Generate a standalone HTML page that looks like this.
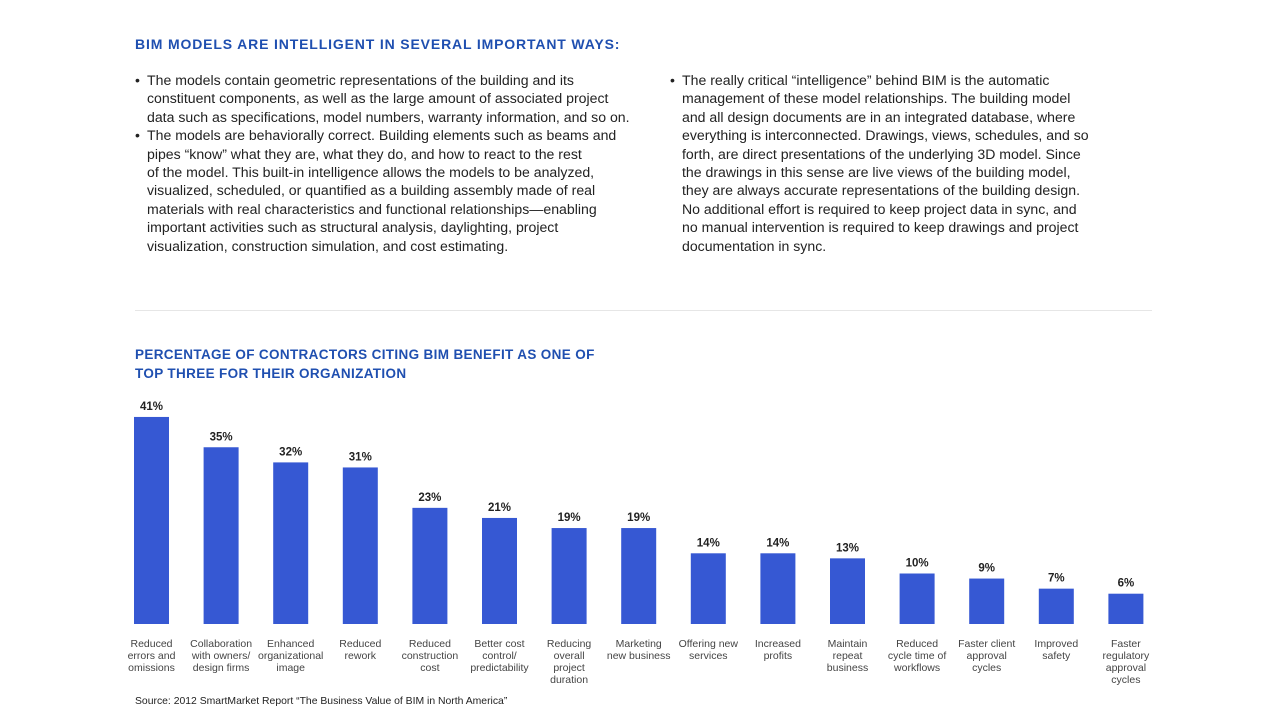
<!DOCTYPE html>
<html><head><meta charset="utf-8"><style>
body{margin:0;width:1280px;height:720px;background:#fff;font-family:"Liberation Sans",sans-serif;position:relative;overflow:hidden}
.h{position:absolute;color:#1f4fb0;font-weight:bold;white-space:nowrap}
.col{position:absolute;font-size:14.1px;line-height:18.4px;color:#222;white-space:nowrap}
.col p{margin:0;padding-left:12px;position:relative}
.col p:before{content:"•";position:absolute;left:0}
.sep{position:absolute;left:135px;top:310px;width:1017px;height:1px;background:#e6e6e6}
.src{position:absolute;left:135px;top:696px;font-size:10.4px;color:#222}
</style></head><body>
<div class="h" style="left:135px;top:36px;font-size:14px;letter-spacing:0.85px">BIM MODELS ARE INTELLIGENT IN SEVERAL IMPORTANT WAYS:</div>
<div class="col" style="left:135px;top:71px">
<p>The models contain geometric representations of the building and its<br>constituent components, as well as the large amount of associated project<br>data such as specifications, model numbers, warranty information, and so on.</p>
<p>The models are behaviorally correct. Building elements such as beams and<br>pipes “know” what they are, what they do, and how to react to the rest<br>of the model. This built-in intelligence allows the models to be analyzed,<br>visualized, scheduled, or quantified as a building assembly made of real<br>materials with real characteristics and functional relationships—enabling<br>important activities such as structural analysis, daylighting, project<br>visualization, construction simulation, and cost estimating.</p>
</div>
<div class="col" style="left:670px;top:71px">
<p>The really critical “intelligence” behind BIM is the automatic<br>management of these model relationships. The building model<br>and all design documents are in an integrated database, where<br>everything is interconnected. Drawings, views, schedules, and so<br>forth, are direct presentations of the underlying 3D model. Since<br>the drawings in this sense are live views of the building model,<br>they are always accurate representations of the building design.<br>No additional effort is required to keep project data in sync, and<br>no manual intervention is required to keep drawings and project<br>documentation in sync.</p>
</div>
<div class="sep"></div>
<div class="h" style="left:135px;top:345px;line-height:19px;font-size:13.5px;letter-spacing:0.35px">PERCENTAGE OF CONTRACTORS CITING BIM BENEFIT AS ONE OF<br>TOP THREE FOR THEIR ORGANIZATION</div>
<svg id="chart" width="1280" height="720" style="position:absolute;left:0;top:0"></svg>
<div class="src">Source: 2012 SmartMarket Report “The Business Value of BIM in North America”</div>
<script>
const categories=[["Reduced","errors and","omissions"],["Collaboration","with owners/","design firms"],["Enhanced","organizational","image"],["Reduced","rework"],["Reduced","construction","cost"],["Better cost","control/","predictability"],["Reducing","overall","project","duration"],["Marketing","new business"],["Offering new","services"],["Increased","profits"],["Maintain","repeat","business"],["Reduced","cycle time of","workflows"],["Faster client","approval","cycles"],["Improved","safety"],["Faster","regulatory","approval","cycles"]];
const values=[41,35,32,31,23,21,19,19,14,14,13,10,9,7,6];
const valueLabels=["41%","35%","32%","31%","23%","21%","19%","19%","14%","14%","13%","10%","9%","7%","6%"];
const svg=document.getElementById('chart');const NS='http://www.w3.org/2000/svg';
const base=624,x0=134,step=69.6,bw=35;
const yS=v=>base-v*5.05;const xS=i=>x0+i*step;
values.forEach((v,i)=>{
 const r=document.createElementNS(NS,'rect');
 
 
 r.setAttribute('x',xS(i));r.setAttribute('y',yS(v));r.setAttribute('width',bw);r.setAttribute('height',base-yS(v));r.setAttribute('fill','#3658d3');svg.appendChild(r);
 const t=document.createElementNS(NS,'text');
 
 
 t.setAttribute('x',xS(i)+bw/2);t.setAttribute('y',yS(v)-7);t.setAttribute('text-anchor','middle');t.setAttribute('font-size','11.5');t.setAttribute('font-weight','bold');t.setAttribute('fill','#222');t.setAttribute('font-family','Liberation Sans, sans-serif');t.textContent=valueLabels[i];svg.appendChild(t);
 const c=document.createElementNS(NS,'text');
 
 
 c.setAttribute('text-anchor','middle');c.setAttribute('font-size','10.5');c.setAttribute('fill','#444');c.setAttribute('font-family','Liberation Sans, sans-serif');
 categories[i].forEach((ln,j)=>{const s=document.createElementNS(NS,'tspan');s.setAttribute('x',xS(i)+bw/2);s.setAttribute('y',647+j*12);s.textContent=ln;c.appendChild(s);});
 svg.appendChild(c);
});
</script>
</body></html>
